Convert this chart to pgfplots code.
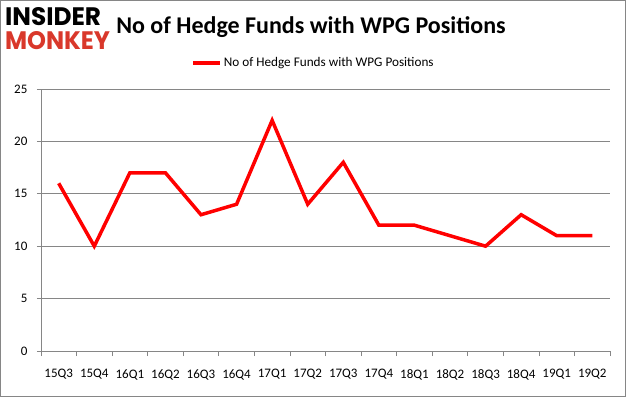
\documentclass[border=0pt]{standalone}
\usepackage{pgfplots}
\pgfplotsset{compat=1.18}
\usepackage{graphicx}
\usepackage{fontspec}
\setmainfont{Carlito}
\newfontfamily\logofont{Poppins}
\definecolor{gridgray}{HTML}{868686}
\definecolor{logored}{HTML}{D9382B}
\begin{document}
\begin{tikzpicture}[x=1pt,y=1pt]
\draw[gridgray, line width=0.8pt] (0.5,0.5) rectangle (625.5,396.5);
\node[anchor=north west, inner sep=0pt] at (5,390) {\resizebox{96pt}{18pt}{\logofont\bfseries INSIDER}};
\node[anchor=south west, inner sep=0pt] at (5,347) {\resizebox{105pt}{18pt}{\logofont\bfseries\color{logored}MONKEY}};
\node[font=\fontsize{24}{28}\selectfont\bfseries] at (311,370) {No of Hedge Funds with WPG Positions};
\begin{axis}[
  at={(41pt,46pt)}, anchor=south west,
  scale only axis, width=569pt, height=262pt,
  xmin=-0.5, xmax=15.5, ymin=0, ymax=25,
  ytick={0,5,...,25},
  xtick={0,...,15},
  xticklabels={15Q3,15Q4,16Q1,16Q2,16Q3,16Q4,17Q1,17Q2,17Q3,17Q4,18Q1,18Q2,18Q3,18Q4,19Q1,19Q2},
  minor xtick={-0.5,0.5,...,15.5},
  axis lines*=left,
  axis line style={gridgray, line width=0.8pt},
  x axis line style={-}, y axis line style={-},
  tick align=outside,
  xtick pos=bottom, ytick pos=left,
  major tick length=4pt,
  minor tick length=5pt,
  xtick style={draw=none},
  minor x tick style={gridgray, line width=0.8pt, draw=gridgray},
  ytick style={gridgray, line width=0.8pt},
  ymajorgrids, grid style={gridgray, line width=0.8pt},
  tick label style={font=\fontsize{13}{15}\selectfont},
  xticklabel style={yshift=-11pt},
  yticklabel style={xshift=-6pt},
  /pgf/number format/assume math mode=true,
  legend style={at={(0.479,1.099)}, anchor=center, draw=none, font=\fontsize{13.2}{15}\selectfont, inner sep=1pt},
  legend image code/.code={\draw[#1] (0pt,0pt) -- (27pt,0pt);},
]
\addplot[red, line width=3.5pt, line join=miter] coordinates {
(0,16) (1,10) (2,17) (3,17) (4,13) (5,14) (6,22) (7,14) (8,18) (9,12) (10,12) (11,11) (12,10) (13,13) (14,11) (15,11)
};
\addlegendentry{No of Hedge Funds with WPG Positions}
\end{axis}
\end{tikzpicture}
\end{document}
